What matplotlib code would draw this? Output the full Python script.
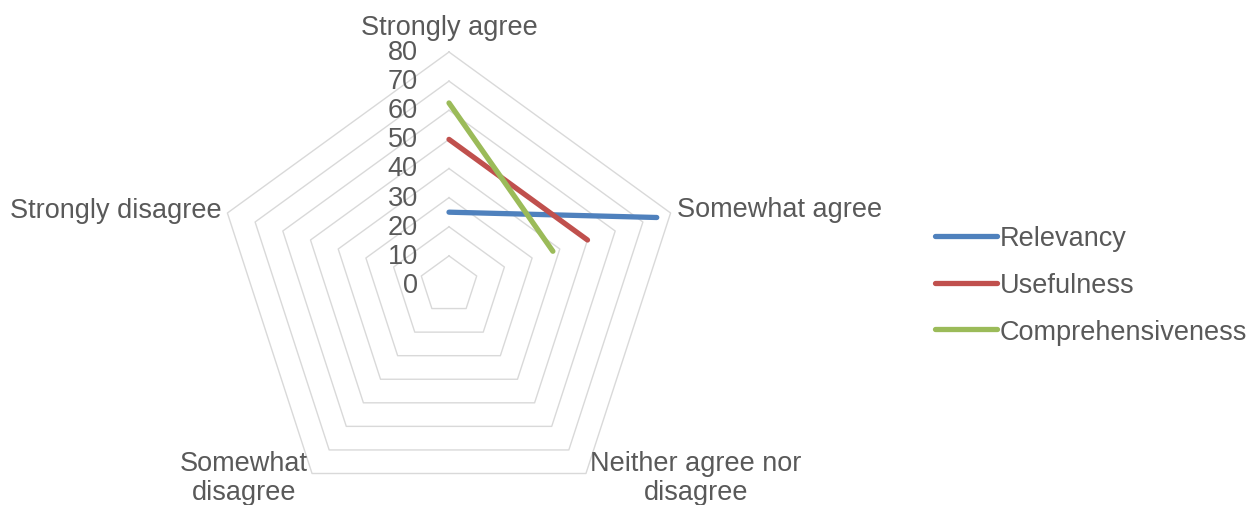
import numpy as np
import matplotlib.pyplot as plt

plt.rcParams['font.family'] = ['Liberation Sans', 'DejaVu Sans']

categories = ['Strongly agree', 'Somewhat agree', 'Neither agree nor\ndisagree',
              'Somewhat\ndisagree', 'Strongly disagree']
relevancy = [25, 75, np.nan, np.nan, np.nan]
usefulness = [50, 50, np.nan, np.nan, np.nan]
comprehensiveness = [62.5, 37.5, np.nan, np.nan, np.nan]
series_names = ['Relevancy', 'Usefulness', 'Comprehensiveness']
ring_values = [10, 20, 30, 40, 50, 60, 70, 80]
tick_values = [0, 10, 20, 30, 40, 50, 60, 70, 80]

colors = ['#4F81BD', '#C0504D', '#9BBB59']
text_color = '#595959'
fs = 19.5

fig = plt.figure(figsize=(12.48, 5.06), dpi=100)
# center at (449, 286) px from top, radius 233 px
ax = fig.add_axes([216 / 1248, (220 - 233) / 506, 466 / 1248, 466 / 506],
                  projection='polar')
ax.set_theta_offset(np.pi / 2)
ax.set_theta_direction(-1)
ax.set_ylim(0, 80)
ax.grid(False)
ax.set_xticks([])
ax.set_yticks([])
ax.spines['polar'].set_visible(False)
ax.patch.set_alpha(0)

n = len(categories)
theta = np.arange(n) * 2 * np.pi / n
theta_closed = np.append(theta, 2 * np.pi)

# pentagon gridlines
for r in ring_values:
    ax.plot(theta_closed, [r] * (n + 1), color='#D9D9D9', lw=1.0,
            clip_on=False, zorder=1)

# data series
for vals, name, c in zip([relevancy, usefulness, comprehensiveness],
                         series_names, colors):
    ax.plot(theta, vals, color=c, lw=3.8, solid_capstyle='round',
            label=name, clip_on=False, zorder=3)

# radial tick labels
for v in tick_values:
    ax.annotate(str(v), xy=(0, v), xytext=(-22.5, 0),
                textcoords='offset points', ha='right', va='center',
                fontsize=fs, color=text_color, zorder=4)

# category labels
label_specs = [
    ((0, 13), 'center', 'baseline'),
    ((4.5, 3), 'left', 'center'),
    ((3, -3), 'left', 'center'),
    ((-3, -3), 'right', 'center'),
    ((-4, 2), 'right', 'center'),
]
for t, lab, (off, ha, va) in zip(theta, categories, label_specs):
    ax.annotate(lab, xy=(t, 80), xytext=off, textcoords='offset points',
                ha=ha, va=va, multialignment='center', fontsize=fs,
                color=text_color, annotation_clip=False, linespacing=1.15)

fig.legend(loc='center left', bbox_to_anchor=(935 / 1248, (506 - 286) / 506),
           frameon=False, fontsize=fs, handlelength=2.3, handletextpad=0.1,
           labelspacing=0.76, borderpad=0, borderaxespad=0,
           labelcolor=text_color)

fig.savefig('out.png', dpi=100)
